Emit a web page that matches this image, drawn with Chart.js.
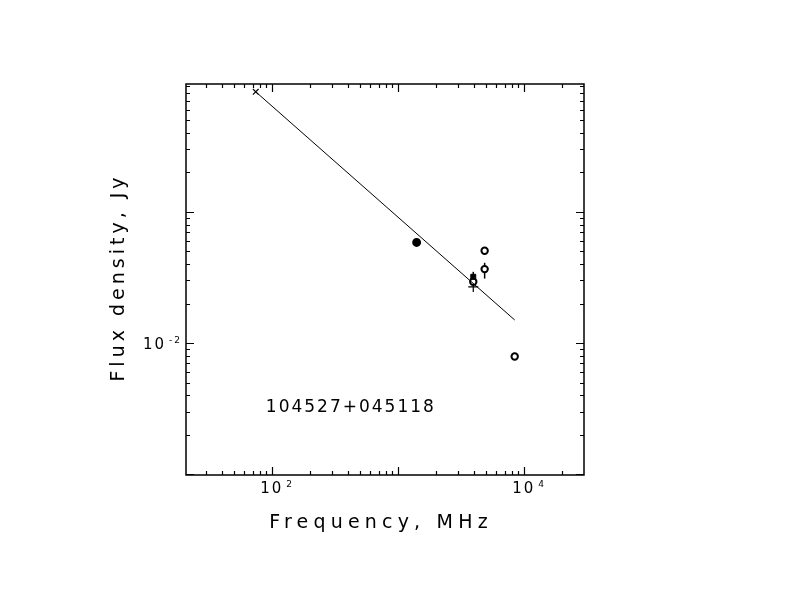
<!DOCTYPE html>
<html>
<head>
<meta charset="utf-8">
<script src="https://cdn.jsdelivr.net/npm/chart.js@4.4.1/dist/chart.umd.min.js"></script>
<style>
  html, body { margin: 0; padding: 0; background: #fff; }
  canvas { display: block; }
</style>
</head>
<body>
<canvas id="spectrum" width="792" height="612"></canvas>
<script>
// Spectrum of 104527+045118
const xRange = [20.7, 29800];     // MHz
const yRange = [0.00099, 0.94];   // Jy

// power-law fit line
const fitFreq = [74, 8400];
const fitFlux = [0.82, 0.0150];

// measurements by marker type
const crossFreq = [74];
const crossFlux = [0.82];
const thickFreq = [1400];
const thickFlux = [0.0584];
const squareFreq = [3940];
const squareFlux = [0.0320];
const circleFreq = [3940, 4850, 4850, 8400];
const circleFlux = [0.0293, 0.0505, 0.0366, 0.0079];
const plusFreq = [3940];
const plusFlux = [0.0268];

// vertical error bars
const errFreq = [4850, 3940];
const errLow = [0.0310, 0.0300];
const errHigh = [0.0409, 0.0349];

// labelled decades
const xTickLabels = [{ value: 100, exp: '2' }, { value: 10000, exp: '4' }];
const yTickLabels = [{ value: 0.01, exp: '-2' }];

const sourceName = '104527+045118';
const xTitle = 'Frequency, MHz';
const yTitle = 'Flux density, Jy';

const FONT = '"DejaVu Sans", sans-serif';

function pts(xs, ys) {
  return xs.map((v, i) => ({ x: v, y: ys[i] }));
}

function logTicks(min, max) {
  const out = [];
  for (let e = Math.floor(Math.log10(min)); e <= Math.ceil(Math.log10(max)); e++) {
    for (let m = 1; m <= 9; m++) {
      const v = m * Math.pow(10, e);
      if (v > min && v < max) out.push({ v, major: m === 1 });
    }
  }
  return out;
}

function spacedText(ctx, text, x, y, spacing) {
  ctx.letterSpacing = spacing + 'px';
  ctx.fillText(text, x, y);
  ctx.letterSpacing = '0px';
}

function powerLabel(ctx, x, y, exp) {
  ctx.textAlign = 'left';
  ctx.textBaseline = 'alphabetic';
  ctx.font = '15px ' + FONT;
  ctx.letterSpacing = '2px';
  ctx.fillText('10', x, y);
  const w = ctx.measureText('10').width;
  ctx.font = '9px ' + FONT;
  ctx.fillText(exp, x + w + 3, y - 6);
  ctx.letterSpacing = '0px';
}

const errorBars = {
  id: 'errorBars',
  beforeDatasetsDraw(chart) {
    const { ctx, scales: { x, y } } = chart;
    ctx.save();
    ctx.strokeStyle = '#000';
    ctx.lineWidth = 1.5;
    errFreq.forEach((f, i) => {
      const px = x.getPixelForValue(f);
      ctx.beginPath();
      ctx.moveTo(px, y.getPixelForValue(errLow[i]));
      ctx.lineTo(px, y.getPixelForValue(errHigh[i]));
      ctx.stroke();
    });
    ctx.restore();
  }
};

const frame = {
  id: 'frame',
  afterDraw(chart) {
    const { ctx, chartArea: a, scales: { x, y } } = chart;
    ctx.save();
    ctx.strokeStyle = '#000';
    ctx.fillStyle = '#000';
    ctx.lineWidth = 1.5;
    ctx.strokeRect(a.left, a.top, a.right - a.left, a.bottom - a.top);

    // inward ticks on all four sides
    ctx.lineWidth = 1.2;
    ctx.beginPath();
    logTicks(xRange[0], xRange[1]).forEach(t => {
      const px = Math.round(x.getPixelForValue(t.v)) + 0.5;
      const len = t.major ? 8 : 4;
      ctx.moveTo(px, a.bottom); ctx.lineTo(px, a.bottom - len);
      ctx.moveTo(px, a.top); ctx.lineTo(px, a.top + len);
    });
    logTicks(yRange[0], yRange[1]).forEach(t => {
      const py = Math.round(y.getPixelForValue(t.v)) + 0.5;
      const len = t.major ? 8 : 4;
      ctx.moveTo(a.left, py); ctx.lineTo(a.left + len, py);
      ctx.moveTo(a.right, py); ctx.lineTo(a.right - len, py);
    });
    ctx.stroke();

    // tick labels
    xTickLabels.forEach(t => {
      powerLabel(ctx, x.getPixelForValue(t.value) - 12, a.bottom + 18, t.exp);
    });
    yTickLabels.forEach(t => {
      powerLabel(ctx, a.left - 43, y.getPixelForValue(t.value) + 6, t.exp);
    });

    // axis titles
    ctx.font = '19px ' + FONT;
    ctx.textAlign = 'center';
    ctx.textBaseline = 'alphabetic';
    spacedText(ctx, xTitle, (a.left + a.right) / 2 - 4, a.bottom + 53, 5.2);
    ctx.save();
    ctx.translate(a.left - 62, (a.top + a.bottom) / 2 - 2);
    ctx.rotate(-Math.PI / 2);
    spacedText(ctx, yTitle, 0, 0, 4);
    ctx.restore();

    // source name
    ctx.font = '17px ' + FONT;
    ctx.textAlign = 'left';
    spacedText(ctx, sourceName, x.getPixelForValue(89), y.getPixelForValue(0.00300), 2);
    ctx.restore();
  }
};

new Chart(document.getElementById('spectrum'), {
  type: 'scatter',
  data: {
    datasets: [
      {
        type: 'line', data: pts(fitFreq, fitFlux), borderColor: '#000', borderWidth: 1,
        pointRadius: 0, fill: false, tension: 0
      },
      {
        data: pts(crossFreq, crossFlux), pointStyle: 'crossRot', pointRadius: 4,
        borderColor: '#000', borderWidth: 1.2
      },
      {
        data: pts(thickFreq, thickFlux), pointStyle: 'circle', pointRadius: 3.2,
        backgroundColor: '#000', borderColor: '#000', borderWidth: 2.5
      },
      {
        data: pts(squareFreq, squareFlux), pointStyle: 'rect', pointRadius: 3.5,
        backgroundColor: '#000', borderColor: '#000', borderWidth: 1
      },
      {
        data: pts(circleFreq, circleFlux), pointStyle: 'circle', pointRadius: 3.2,
        backgroundColor: '#fff', borderColor: '#000', borderWidth: 2
      },
      {
        data: pts(plusFreq, plusFlux), pointStyle: 'cross', pointRadius: 5,
        borderColor: '#000', borderWidth: 1.2
      }
    ]
  },
  options: {
    responsive: false,
    animation: false,
    devicePixelRatio: 1,
    layout: { padding: { left: 186, right: 208, top: 84, bottom: 137 } },
    plugins: { legend: { display: false }, tooltip: { enabled: false } },
    scales: {
      x: { type: 'logarithmic', min: xRange[0], max: xRange[1], display: false },
      y: { type: 'logarithmic', min: yRange[0], max: yRange[1], display: false }
    }
  },
  plugins: [errorBars, frame]
});
</script>
</body>
</html>
